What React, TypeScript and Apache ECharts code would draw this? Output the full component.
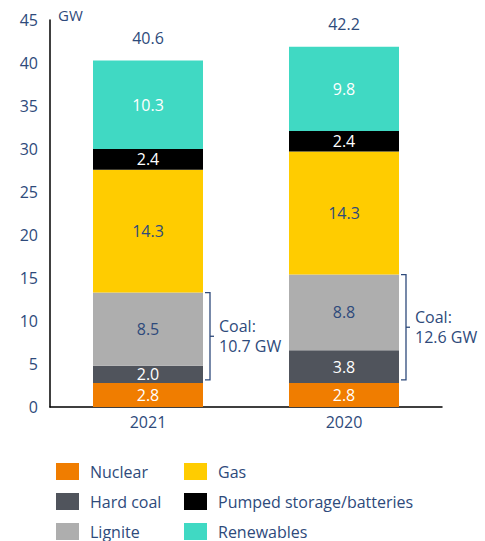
import React, { useEffect, useRef } from "react";
import * as echarts from "echarts";

const years = ["2021", "2020"];
const nuclear = [2.8, 2.8];
const hardCoal = [2.0, 3.8];
const lignite = [8.5, 8.8];
const gas = [14.3, 14.3];
const pumped = [2.4, 2.4];
const renewables = [10.3, 9.8];
const totals = [40.6, 42.2];
const coalTotals = [10.7, 12.6];

const TEXT = "#2E4A7B";
const FONT = "Open Sans";
const FS = 16;

export default function App() {
  const ref = useRef<HTMLDivElement>(null);
  useEffect(() => {
    if (!ref.current) return;
    const chart = echarts.init(ref.current, null, { renderer: "svg" });
    const mk = (name: string, data: number[], color: string, labelColor: string) => ({
      name,
      type: "bar",
      stack: "s",
      data,
      barWidth: 110,
      itemStyle: { color },
      label: {
        show: true,
        position: "inside",
        color: labelColor,
        fontSize: FS,
        fontFamily: FONT,
        formatter: (p: any) => p.value.toFixed(1),
      },
    });
    const legendCommon = {
      top: 463,
      orient: "vertical",
      itemWidth: 23,
      itemHeight: 17,
      itemGap: 13,
      padding: 0,
      height: 80,
      icon: "rect",
      textStyle: { color: TEXT, fontSize: FS, fontFamily: FONT, padding: [0, 0, 0, 6] },
    };
    const bracketData = years.map((_, i) => [i, nuclear[i], nuclear[i] + hardCoal[i] + lignite[i], coalTotals[i]]);
    chart.setOption({
      animation: false,
      textStyle: { fontFamily: FONT },
      grid: { left: 50, right: 43, top: 20, bottom: 134, containLabel: false },
      legend: [
        { ...legendCommon, left: 56, data: ["Nuclear", "Hard coal", "Lignite"] },
        { ...legendCommon, left: 184, data: ["Gas", "Pumped storage/batteries", "Renewables"] },
      ],
      xAxis: {
        type: "category",
        data: years,
        axisLine: { lineStyle: { color: "#000", width: 1.5 } },
        axisTick: { show: false },
        axisLabel: { color: TEXT, fontSize: FS, margin: 7, fontFamily: FONT },
      },
      yAxis: {
        type: "value",
        min: 0,
        max: 45,
        interval: 5,
        name: "GW",
        nameLocation: "end",
        nameGap: 5,
        nameTextStyle: { color: TEXT, fontSize: 15, align: "left", verticalAlign: "middle", padding: [0, 0, 0, 8], fontFamily: FONT },
        axisLine: { show: true, lineStyle: { color: "#000", width: 1.5 } },
        axisTick: { show: false },
        splitLine: { show: false },
        axisLabel: { color: TEXT, fontSize: FS, margin: 12, fontFamily: FONT },
      },
      series: [
        mk("Nuclear", nuclear, "#F07D00", "#fff"),
        mk("Hard coal", hardCoal, "#50545C", "#fff"),
        mk("Lignite", lignite, "#AEAEAE", TEXT),
        mk("Gas", gas, "#FFCC00", TEXT),
        mk("Pumped storage/batteries", pumped, "#000000", "#fff"),
        mk("Renewables", renewables, "#40D9C3", "#fff"),
        {
          type: "custom",
          silent: true,
          data: totals.map((t, i) => [i, t]),
          renderItem: (params: any, api: any) => {
            const p = api.coord([api.value(0), api.value(1)]);
            return {
              type: "text",
              x: p[0],
              y: p[1] - 20,
              style: {
                text: api.value(1).toFixed(1),
                fill: TEXT,
                font: `${FS}px "${FONT}"`,
                align: "center",
                verticalAlign: "middle",
              },
            };
          },
        },
        {
          type: "custom",
          silent: true,
          data: bracketData,
          renderItem: (params: any, api: any) => {
            const c = api.value(0);
            const lo = api.coord([c, api.value(1)]);
            const hi = api.coord([c, api.value(2)]);
            const x = lo[0] + 55 + 7;
            const yTop = hi[1];
            const yBot = lo[1] - 3;
            const yMid = (yTop + yBot) / 2;
            const style = { stroke: TEXT, lineWidth: 1.3, fill: "none" };
            return {
              type: "group",
              children: [
                { type: "polyline", shape: { points: [[x - 5, yTop], [x, yTop], [x, yBot], [x - 5, yBot]] }, style },
                { type: "line", shape: { x1: x, y1: yMid, x2: x + 4, y2: yMid }, style },
                {
                  type: "text",
                  x: x + 9,
                  y: yMid,
                  style: {
                    text: "Coal:\n" + api.value(3).toFixed(1) + " GW",
                    fill: TEXT,
                    font: `${FS}px "${FONT}"`,
                    verticalAlign: "middle",
                    align: "left",
                    lineHeight: 20,
                  },
                },
              ],
            };
          },
        },
      ],
    });
    return () => chart.dispose();
  }, []);
  return <div ref={ref} style={{ width: 485, height: 541, position: "absolute", left: 0, top: 0 }} />;
}
